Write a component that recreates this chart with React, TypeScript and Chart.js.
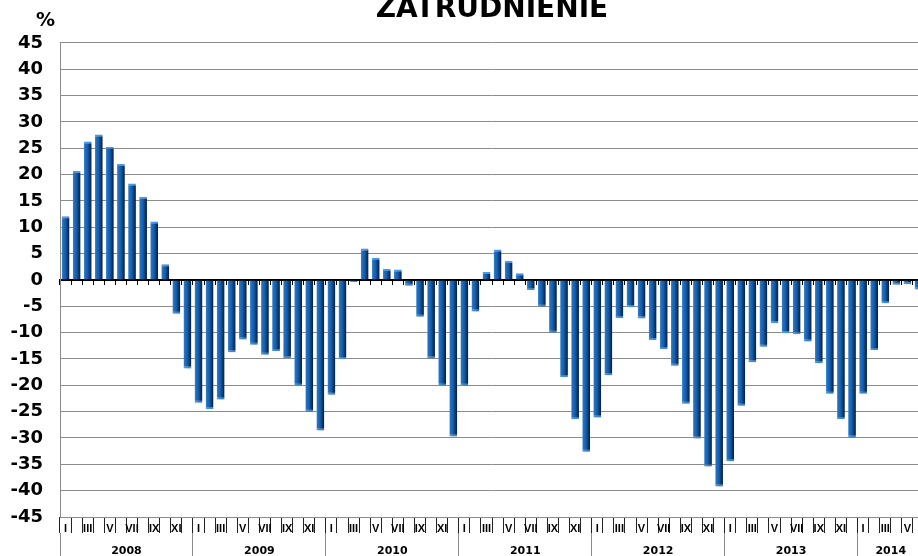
import React, { useEffect, useRef } from 'react';
import { Chart, registerables } from 'chart.js';

Chart.register(...registerables);

const chartTitle = 'ZATRUDNIENIE';
const unitLabel = '%';
const years = ['2008', '2009', '2010', '2011', '2012', '2013', '2014'];
const monthsPerYear = [12, 12, 12, 12, 12, 12, 6];
const romanMonths = ['I', 'II', 'III', 'IV', 'V', 'VI', 'VII', 'VIII', 'IX', 'X', 'XI', 'XII'];

const values2008 = [12.1, 20.7, 26.3, 27.6, 25.3, 22.0, 18.3, 15.8, 11.1, 3.0, -6.4, -16.8];
const values2009 = [-23.3, -24.5, -22.7, -13.7, -11.3, -12.3, -14.2, -13.5, -14.8, -20.1, -25.0, -28.6];
const values2010 = [-21.8, -15.0, -0.4, 6.0, 4.2, 2.1, 2.0, -1.1, -7.0, -14.9, -20.1, -29.7];
const values2011 = [-20.1, -6.0, 1.5, 5.8, 3.6, 1.3, -1.9, -5.1, -10.0, -18.4, -26.4, -32.6];
const values2012 = [-26.1, -18.1, -7.2, -5.2, -7.3, -11.4, -13.1, -16.3, -23.5, -30.1, -35.4, -39.2];
const values2013 = [-34.4, -23.9, -15.6, -12.7, -8.2, -10.1, -10.3, -11.7, -15.8, -21.6, -26.4, -29.9];
const values2014 = [-21.6, -13.3, -4.4, -0.9, -0.8, -1.8];

const yMin = -45;
const yMax = 45;
const yStep = 5;

const values = [
  ...values2008, ...values2009, ...values2010, ...values2011,
  ...values2012, ...values2013, ...values2014,
];
const categories = years.flatMap((y, k) =>
  romanMonths.slice(0, monthsPerYear[k]).map((m) => `${m} ${y}`)
);
const monthShort = years.flatMap((_, k) =>
  romanMonths.slice(0, monthsPerYear[k]).map((m, i) => (i % 2 === 0 ? m : ''))
);
const totalMonths = categories.length;
const yearStarts = monthsPerYear.map((_, k) =>
  monthsPerYear.slice(0, k).reduce((a, b) => a + b, 0)
);
const yearBoundaries = [...yearStarts, totalMonths];
const yearCenters = yearStarts.map((s, k) => s + monthsPerYear[k] / 2);

const BAR_PCT = 0.7;
const FONT_BOLD_WIDE = "'DejaVu Sans', sans-serif";
const FONT_BOLD_NARROW = "'Liberation Sans', Arial, sans-serif";

const shadowPlugin = {
  id: 'barShadow',
  beforeDatasetsDraw(chart: any) {
    const ctx = chart.ctx;
    ctx.save();
    ctx.shadowColor = 'rgba(0,0,0,0.32)';
    ctx.shadowBlur = 3;
    ctx.shadowOffsetX = 2;
    ctx.shadowOffsetY = 1;
  },
  afterDatasetsDraw(chart: any) {
    chart.ctx.restore();
  },
};

export default function App() {
  const canvasRef = useRef<HTMLCanvasElement | null>(null);

  useEffect(() => {
    if (!canvasRef.current) return;
    const chart = new Chart(canvasRef.current, {
      type: 'bar',
      data: {
        labels: categories,
        datasets: [
          {
            label: chartTitle,
            data: values,
            xAxisID: 'x',
            yAxisID: 'y',
            categoryPercentage: 1,
            barPercentage: BAR_PCT,
            borderSkipped: false,
            borderColor: '#4c9be8',
            borderWidth: (c: any) => {
              const v = c.raw as number;
              return v >= 0
                ? { top: 2, right: 0, bottom: 0, left: 0 }
                : { top: 0, right: 0, bottom: 2, left: 0 };
            },
            backgroundColor: (c: any) => {
              const ch = c.chart;
              const xs = ch.scales && ch.scales.x;
              if (!xs || c.dataIndex == null || !isFinite(xs.width)) return '#1560ad';
              const cx = xs.getPixelForValue(c.dataIndex);
              const w = (xs.width / totalMonths) * BAR_PCT;
              if (!isFinite(cx) || !isFinite(w)) return '#1560ad';
              const g = ch.ctx.createLinearGradient(cx - w / 2, 0, cx + w / 2, 0);
              g.addColorStop(0, '#3f93e4');
              g.addColorStop(0.15, '#2272c6');
              g.addColorStop(0.5, '#165ca5');
              g.addColorStop(0.8, '#0c3568');
              g.addColorStop(1, '#071d3a');
              return g;
            },
          } as any,
        ],
      },
      options: {
        animation: false,
        responsive: true,
        maintainAspectRatio: false,
        layout: { padding: 0 },
        plugins: {
          legend: { display: false },
          tooltip: { enabled: false },
          title: {
            display: true,
            text: chartTitle,
            fullSize: false,
            color: '#000',
            font: { family: FONT_BOLD_WIDE, size: 28, weight: 'bold', lineHeight: 0.72 },
            padding: { top: 0, bottom: 22.8 },
          },
        },
        scales: {
          x: {
            type: 'category',
            position: { y: 0 } as any,
            offset: true,
            z: 1,
            ticks: { display: false },
            grid: {
              display: true,
              offset: true,
              drawOnChartArea: false,
              drawTicks: true,
              tickLength: 4,
              tickColor: '#000',
              tickWidth: 1,
            },
            border: { display: true, color: '#000', width: 2 },
          },
          xMonth: {
            type: 'category',
            labels: categories,
            position: 'bottom',
            weight: 1,
            offset: true,
            grid: {
              display: true,
              offset: true,
              drawOnChartArea: false,
              drawTicks: true,
              tickLength: 16,
              tickColor: '#222',
              tickWidth: 1,
            },
            border: { display: false },
            ticks: {
              autoSkip: false,
              maxRotation: 0,
              minRotation: 0,
              padding: -11,
              color: '#000',
              font: { family: FONT_BOLD_NARROW, size: 11, weight: 'bold' },
              callback: (_v: any, i: number) => monthShort[i],
            },
            afterFit: (s: any) => {
              s.height = 16;
            },
          } as any,
          xYear: {
            type: 'linear',
            position: 'bottom',
            weight: 2,
            min: 0,
            max: totalMonths,
            offset: false,
            afterBuildTicks: (s: any) => {
              const vals = [...yearBoundaries, ...yearCenters].sort((a, b) => a - b);
              s.ticks = vals.map((v) => ({ value: v }));
            },
            grid: {
              display: true,
              offset: false,
              drawOnChartArea: false,
              drawTicks: true,
              tickLength: 23,
              tickWidth: 1,
              tickColor: (c: any) =>
                c.tick && yearBoundaries.includes(c.tick.value) ? '#8a8a8a' : 'rgba(0,0,0,0)',
            },
            border: { display: false },
            ticks: {
              autoSkip: false,
              maxRotation: 0,
              minRotation: 0,
              padding: -11.6,
              color: '#000',
              font: { family: FONT_BOLD_WIDE, size: 11, weight: 'bold' },
              callback: (v: any) => {
                const k = yearCenters.indexOf(Number(v));
                return k >= 0 ? years[k] : '';
              },
            },
            afterFit: (s: any) => {
              s.height = 23;
            },
          } as any,
          y: {
            min: yMin,
            max: yMax,
            ticks: {
              stepSize: yStep,
              padding: 17,
              color: '#000',
              font: { family: FONT_BOLD_WIDE, size: 18, weight: 'bold' },
            },
            grid: { color: '#8c8c8c', lineWidth: 1, drawTicks: false },
            border: { display: true, color: '#8c8c8c', width: 1 },
            afterFit: (s: any) => {
              s.width = 60;
            },
          } as any,
        },
      },
      plugins: [shadowPlugin],
    });
    return () => chart.destroy();
  }, []);

  return (
    <div
      style={{
        position: 'fixed',
        left: 0,
        top: 0,
        width: 918,
        height: 556,
        overflow: 'hidden',
        background: '#fff',
      }}
    >
      <div style={{ position: 'relative', width: 924, height: 556 }}>
        <canvas ref={canvasRef} />
      </div>
      <div
        style={{
          position: 'absolute',
          left: 36,
          top: 10,
          fontFamily: FONT_BOLD_WIDE,
          fontWeight: 'bold',
          fontSize: 19,
          lineHeight: '19px',
          color: '#000',
        }}
      >
        {unitLabel}
      </div>
    </div>
  );
}
